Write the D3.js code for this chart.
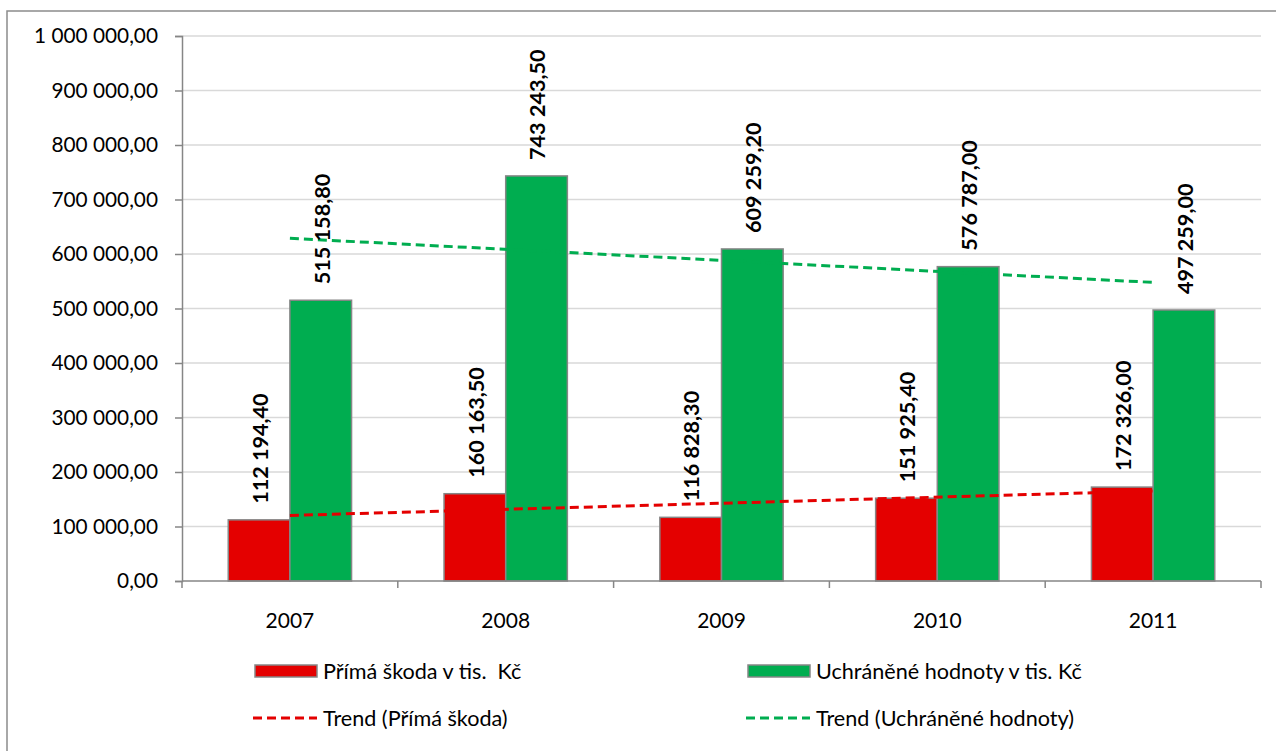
<!DOCTYPE html>
<html><head><meta charset="utf-8">
<script src="https://cdn.jsdelivr.net/npm/d3@7"></script>
<style>
html,body{margin:0;padding:0;background:#fff;}
svg{display:block;font-family:Lato,"Open Sans",sans-serif;}
</style></head>
<body>
<svg id="chart" width="1276" height="751"></svg>
<script>
const years = ["2007","2008","2009","2010","2011"];
const seriesNames = ["Přímá škoda v tis.  Kč","Uchráněné hodnoty v tis. Kč"];
const trendNames = ["Trend (Přímá škoda)","Trend (Uchráněné hodnoty)"];
const primaSkoda = [112194.40,160163.50,116828.30,151925.40,172326.00];
const uchraneneHodnoty = [515158.80,743243.50,609259.20,576787.00,497259.00];
const yTicks = [0,100000,200000,300000,400000,500000,600000,700000,800000,900000,1000000];
const colors = ["#e40000","#00ad50"];

const svg = d3.select("#chart");
const loc = d3.formatLocale({decimal:",",thousands:" ",grouping:[3],currency:["",""]});
const fmt = loc.format(",.2f");

// outer border
svg.append("rect").attr("x",7).attr("y",11).attr("width",1290).attr("height",760)
  .attr("fill","none").attr("stroke","#8c8c8c").attr("stroke-width",1.5);

const L=182,R=1261,T=36,B=581;
const x = d3.scaleBand().domain(years).range([L,R]).paddingInner(0).paddingOuter(0);
const bw = x.bandwidth();
const groupW = bw*2/3.5;
const x1 = d3.scaleBand().domain([0,1]).range([(bw-groupW)/2,(bw+groupW)/2]);
const y = d3.scaleLinear().domain([0,1000000]).range([B,T]);

// gridlines
svg.append("g").selectAll("line").data(yTicks.slice(1)).join("line")
  .attr("x1",L).attr("x2",R).attr("y1",d=>y(d)).attr("y2",d=>y(d))
  .attr("stroke","#d9d9d9").attr("stroke-width",1.5);

// y axis
const yAxis = svg.append("g").attr("transform",`translate(${L},0)`)
  .call(d3.axisLeft(y).tickValues(yTicks).tickFormat(fmt).tickSize(7).tickPadding(17));
yAxis.select(".domain").attr("stroke","#868686").attr("stroke-width",1.5);
yAxis.selectAll(".tick line").attr("stroke","#868686").attr("stroke-width",1.5);
yAxis.selectAll("text").attr("font-family","Lato").attr("font-size","20.8px").attr("fill","#000");

// x axis
const xAxis = svg.append("g").attr("transform",`translate(0,${B})`)
  .call(d3.axisBottom(x).tickSize(0).tickPadding(32));
xAxis.select(".domain").remove();
xAxis.selectAll("text").attr("font-family","Lato").attr("font-size","21px").attr("fill","#000");
const bounds = years.map(d=>x(d)).concat([R]);
svg.append("g").selectAll("line").data(bounds).join("line")
  .attr("x1",d=>d).attr("x2",d=>d).attr("y1",B).attr("y2",B+7)
  .attr("stroke","#868686").attr("stroke-width",1.5);

const data = [primaSkoda, uchraneneHodnoty];
// bars
data.forEach((vals,si)=>{
  svg.append("g").selectAll("rect").data(vals).join("rect")
    .attr("x",(d,i)=>x(years[i])+x1(si))
    .attr("y",d=>y(d))
    .attr("width",x1.bandwidth())
    .attr("height",d=>B-y(d))
    .attr("fill",colors[si]).attr("stroke","#868686").attr("stroke-width",1.5);
});

// x axis line on top of bars
svg.append("line").attr("x1",L).attr("x2",R).attr("y1",B).attr("y2",B)
  .attr("stroke","#868686").attr("stroke-width",1.5);

// trend lines (linear regression)
function regress(vals){
  const n=vals.length, xs=vals.map((d,i)=>i+1);
  const mx=d3.mean(xs), my=d3.mean(vals);
  let num=0,den=0;
  xs.forEach((xv,i)=>{num+=(xv-mx)*(vals[i]-my);den+=(xv-mx)*(xv-mx);});
  const s=num/den, b=my-s*mx;
  return [s*1+b, s*n+b];
}
const cx = d=>x(d)+bw/2;
data.forEach((vals,si)=>{
  const [a,b]=regress(vals);
  svg.append("line")
    .attr("x1",cx(years[0])).attr("x2",cx(years[years.length-1]))
    .attr("y1",y(a)).attr("y2",y(b))
    .attr("stroke",colors[si]).attr("stroke-width",3)
    .attr("stroke-dasharray","9,5");
});

// data labels
data.forEach((vals,si)=>{
  svg.append("g").selectAll("text").data(vals).join("text")
    .attr("transform",(d,i)=>`translate(${x(years[i])+x1(si)+x1.bandwidth()/2+1},${y(d)-16}) rotate(-90)`)
    .attr("dy","0.36em")
    .attr("text-anchor","start")
    .attr("font-family","Lato").attr("font-weight","bold").attr("font-size","21.6px")
    .attr("fill","#000")
    .text(d=>fmt(d));
});

// legend
const legX=[255,748], row1=671, row2=718;
seriesNames.forEach((nm,i)=>{
  svg.append("rect").attr("x",legX[i]).attr("y",row1-6).attr("width",62).attr("height",12)
    .attr("fill",colors[i]).attr("stroke","#868686").attr("stroke-width",1.5);
  svg.append("text").attr("x",legX[i]+68).attr("y",row1).attr("dy","0.35em")
    .attr("font-family","Lato").attr("font-size","21.6px").attr("fill","#000")
    .attr("xml:space","preserve").style("white-space","pre").text(nm);
});
trendNames.forEach((nm,i)=>{
  svg.append("line").attr("x1",legX[i]-2).attr("x2",legX[i]+62).attr("y1",row2).attr("y2",row2)
    .attr("stroke",colors[i]).attr("stroke-width",3).attr("stroke-dasharray","9,5");
  svg.append("text").attr("x",legX[i]+68).attr("y",row2).attr("dy","0.35em")
    .attr("font-family","Lato").attr("font-size","21.6px").attr("fill","#000").text(nm);
});
</script>
</body></html>
